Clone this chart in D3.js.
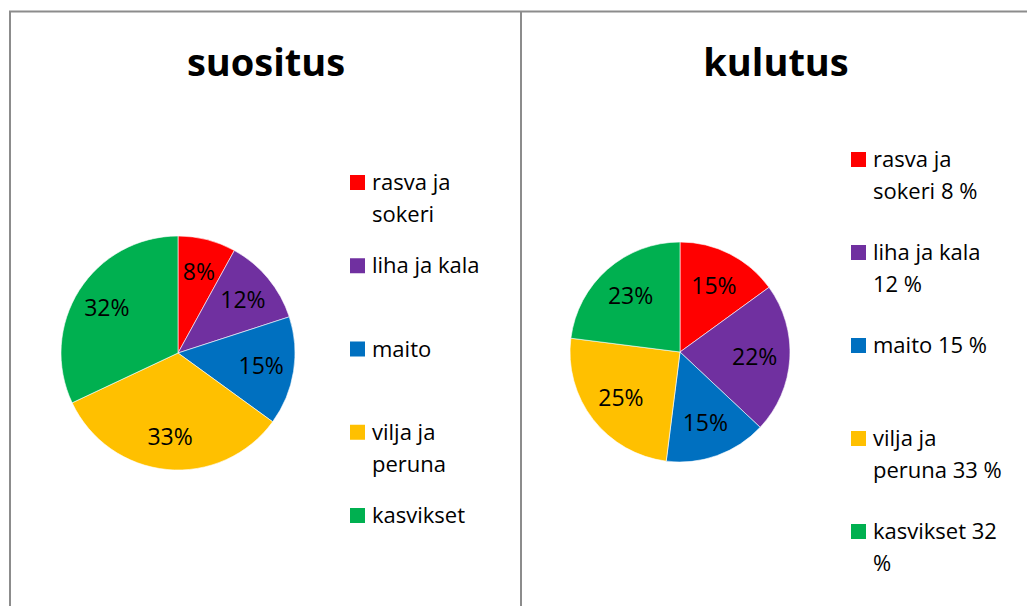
<!doctype html>
<html lang="fi">
<head>
  <meta charset="utf-8">
  <title>suositus / kulutus - D3</title>
  <style>
    body { margin: 0; background: #fff; }
    svg { display: block; font-family: "Open Sans", sans-serif; }
  </style>
</head>
<body>
  <svg width="1027" height="606"></svg>

  <script src="https://cdn.jsdelivr.net/npm/d3@7"></script>
  <script>
    var categories = ['rasva ja sokeri', 'liha ja kala', 'maito', 'vilja ja peruna', 'kasvikset'];
    var suositus = [8, 12, 15, 33, 32];
    var kulutus = [15, 22, 15, 25, 23];
    var colorList = ['#FF0000', '#7030A0', '#0070C0', '#FFC000', '#00B050'];
    // legend lines as they wrap in the original
    var legendLeft = [['rasva ja', 'sokeri'], ['liha ja kala'], ['maito'], ['vilja ja', 'peruna'], ['kasvikset']];
    var legendRight = [['rasva ja', 'sokeri 8 %'], ['liha ja kala', '12 %'], ['maito 15 %'], ['vilja ja', 'peruna 33 %'], ['kasvikset 32', '%']];

    var svg = d3.select('svg');
    var colors = d3.scaleOrdinal(categories, colorList);

    // frame lines
    var frame = svg.append('g').attr('stroke', '#8c8c8c').attr('stroke-width', 2);
    frame.append('line').attr('x1', 9).attr('x2', 1027).attr('y1', 11.5).attr('y2', 11.5);
    frame.append('line').attr('x1', 10).attr('x2', 10).attr('y1', 11).attr('y2', 606);
    frame.append('line').attr('x1', 521).attr('x2', 521).attr('y1', 11).attr('y2', 606);

    function drawPanel(opt) {
      var g = svg.append('g');

      g.append('text')
        .text(opt.title)
        .attr('x', opt.titleX)
        .attr('y', 76)
        .attr('text-anchor', 'middle')
        .attr('font-weight', 'bold')
        .attr('font-size', '38px')
        .attr('fill', '#000');

      var pie = d3.pie().sort(null).value(function (d) { return d.value; });
      var arcs = pie(categories.map(function (c, i) { return { name: c, value: opt.values[i] }; }));
      var arc = d3.arc().innerRadius(0).outerRadius(opt.r);
      var labelArc = d3.arc().innerRadius(opt.r * opt.labelK).outerRadius(opt.r * opt.labelK);

      var pg = g.append('g').attr('transform', 'translate(' + opt.cx + ',' + opt.cy + ')');
      pg.selectAll('path').data(arcs).enter()
        .append('path')
        .attr('d', arc)
        .attr('fill', function (d) { return colors(d.data.name); })
        .attr('stroke', '#fff')
        .attr('stroke-width', 0.6);

      pg.selectAll('text').data(arcs).enter()
        .append('text')
        .text(function (d) { return d.data.value + '%'; })
        .attr('transform', function (d) { return 'translate(' + labelArc.centroid(d) + ')'; })
        .attr('text-anchor', 'middle')
        .attr('dy', '0.36em')
        .attr('font-size', '23px')
        .attr('fill', '#000');

      // legend
      var ly = d3.scaleLinear().domain([0, categories.length - 1]).range([opt.legendTop, opt.legendBottom]);
      var lg = g.append('g').attr('transform', 'translate(' + opt.legendX + ',0)');
      var items = lg.selectAll('g').data(categories).enter()
        .append('g')
        .attr('transform', function (d, i) { return 'translate(0,' + ly(i) + ')'; });

      items.append('rect')
        .attr('x', 0)
        .attr('y', -15)
        .attr('width', 15)
        .attr('height', 15)
        .attr('fill', function (d) { return colors(d); });

      items.append('text')
        .attr('font-size', '22px')
        .attr('fill', '#000')
        .selectAll('tspan')
        .data(function (d, i) { return opt.legendLines[i]; })
        .enter()
        .append('tspan')
        .attr('x', 22)
        .attr('y', function (d, j) { return j * 32; })
        .text(function (d) { return d; });
    }

    drawPanel({
      title: 'suositus', titleX: 266, values: suositus,
      cx: 178, cy: 353, r: 117, labelK: 0.72,
      legendX: 350, legendTop: 190, legendBottom: 523, legendLines: legendLeft
    });

    drawPanel({
      title: 'kulutus', titleX: 776, values: kulutus,
      cx: 680, cy: 352, r: 110, labelK: 0.68,
      legendX: 851, legendTop: 167, legendBottom: 539, legendLines: legendRight
    });
  </script>
</body>
</html>
